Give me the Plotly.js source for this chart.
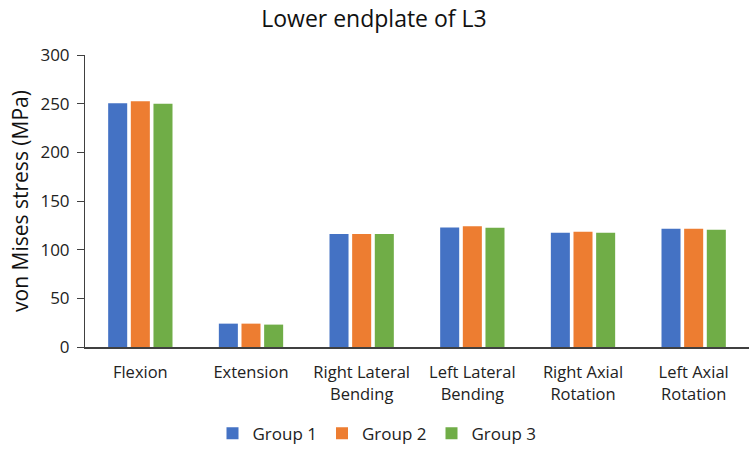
<!DOCTYPE html>
<html>
<head>
<meta charset="utf-8">
<script src="https://cdn.plot.ly/plotly-3.0.1.min.js"></script>
<style>
  html, body { margin: 0; padding: 0; background: #fff; }
  #chart { width: 754px; height: 450px; }
</style>
</head>
<body>
<div id="chart"></div>
<script>
// loading cases along the x axis
var categories = ['Flexion', 'Extension', 'Right Lateral<br>Bending', 'Left Lateral<br>Bending',
                  'Right Axial<br>Rotation', 'Left Axial<br>Rotation'];

// von Mises stress (MPa)
var group1 = [250.5, 24, 116, 122.8, 117.3, 121.4];
var group2 = [252.5, 24, 116, 124, 118.4, 121.4];
var group3 = [250, 23, 116, 122.5, 117.3, 120.4];

var groupNames = ['Group 1', 'Group 2', 'Group 3'];
var groupColors = ['#4472C4', '#ED7D31', '#70AD47'];

var yTicks = [0, 50, 100, 150, 200, 250, 300];

var font = 'Open Sans, Liberation Sans, sans-serif';

var data = [group1, group2, group3].map(function (vals, i) {
    return {
        type: 'bar',
        x: categories,
        y: vals,
        name: groupNames[i],
        marker: { color: groupColors[i] },
        hoverinfo: 'x+y+name'
    };
});

var layout = {
    width: 754,
    height: 450,
    paper_bgcolor: '#fff',
    plot_bgcolor: '#fff',
    margin: { l: 85, r: 5, t: 55, b: 103 },
    title: {
        text: 'Lower endplate of L3',
        font: { family: font, size: 23, color: '#111' },
        x: 0.496,
        xanchor: 'center',
        y: 0.975,
        yanchor: 'top'
    },
    barmode: 'group',
    bargap: 0.386,
    bargroupgap: 0.16,
    xaxis: {
        showline: true,
        linecolor: '#404040',
        linewidth: 1.5,
        ticks: '',
        showgrid: false,
        ticklabelstandoff: 10,
        tickfont: { family: font, size: 16.5, color: '#222' }
    },
    yaxis: {
        range: [0, 300],
        tickvals: yTicks,
        showline: true,
        linecolor: '#404040',
        linewidth: 1,
        ticks: 'outside',
        ticklen: 7,
        tickcolor: '#404040',
        showgrid: false,
        zeroline: false,
        ticklabelstandoff: 4,
        tickfont: { family: font, size: 17, color: '#222' },
        title: {
            text: 'von Mises stress (MPa)',
            font: { family: font, size: 21, color: '#111' },
            standoff: 6
        }
    },
    legend: {
        orientation: 'h',
        x: 0.5,
        xanchor: 'center',
        xref: 'container',
        y: 0.036,
        yanchor: 'middle',
        yref: 'container',
        font: { family: font, size: 17, color: '#222' },
        itemwidth: 30,
        traceorder: 'normal'
    },
    showlegend: true
};

Plotly.newPlot('chart', data, layout, { displayModeBar: false, staticPlot: true });
</script>
</body>
</html>
